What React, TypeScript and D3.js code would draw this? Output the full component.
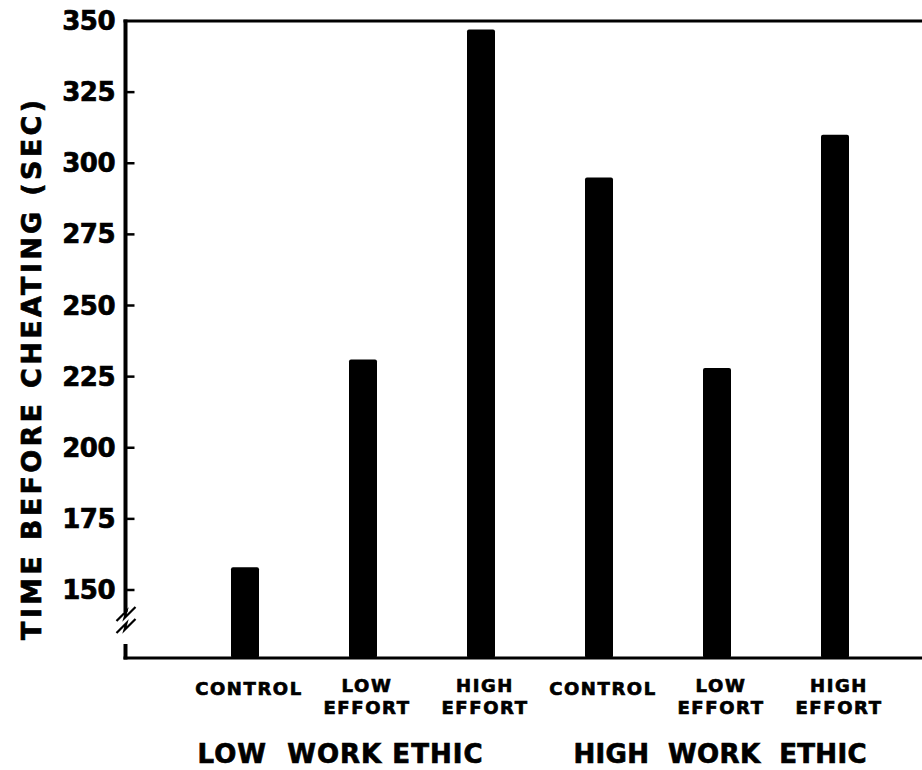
import React from 'react';
import * as d3 from 'd3';

// values (seconds before cheating)
const categories = ['lo-control', 'lo-low', 'lo-high', 'hi-control', 'hi-low', 'hi-high'];
const categoryLabels = [['CONTROL'], ['LOW', 'EFFORT'], ['HIGH', 'EFFORT'], ['CONTROL'], ['LOW', 'EFFORT'], ['HIGH', 'EFFORT']];
const groups = ['LOW  WORK ETHIC', 'HIGH  WORK  ETHIC'];
const lowEthicValues = [158, 231, 347];
const highEthicValues = [295, 228, 310];
const yTicks = [150, 175, 200, 225, 250, 275, 300, 325, 350];
const yTitle = 'TIME BEFORE CHEATING (SEC)';

const W = 922, H = 770;
const FONT = '"DejaVu Sans", Verdana, sans-serif';

export default function App() {
  const values = [...lowEthicValues, ...highEthicValues];
  const axisX = 125.5;
  const baseY = 658;
  const topY = 21;

  const x = d3.scalePoint<string>().domain(categories).range([245, 835]);
  const y = d3.scaleLinear().domain([150, 350]).range([590, topY]);
  const gx = d3.scaleBand<string>().domain(groups).range([150, 910]);
  const barW = 28;

  // axis break squiggle
  const zig = (dy: number) => {
    const p = d3.path();
    p.moveTo(axisX - 9, 621 + dy);
    p.lineTo(axisX + 1, 611 + dy);
    p.lineTo(axisX - 1, 618 + dy);
    p.lineTo(axisX + 10, 607 + dy);
    return p.toString();
  };

  // heavier lettering, like the hand-set original
  const bold = { fontFamily: FONT, fontWeight: 700, fill: '#000', stroke: '#000', strokeWidth: 0.7 };

  return (
    <svg width={W} height={H} style={{ position: 'absolute', left: 0, top: 0, background: '#fff' }}>
      {/* frame top + axes */}
      <line x1={axisX - 2} x2={W} y1={topY} y2={topY} stroke="#000" strokeWidth={3} />
      <line x1={axisX} x2={axisX} y1={topY - 1.5} y2={612} stroke="#000" strokeWidth={4} />
      <line x1={axisX} x2={axisX} y1={644} y2={baseY + 1.5} stroke="#000" strokeWidth={4} />
      <line x1={axisX - 2} x2={W} y1={baseY} y2={baseY} stroke="#000" strokeWidth={3} />
      <path d={zig(0)} fill="none" stroke="#000" strokeWidth={2.2} />
      <path d={zig(12)} fill="none" stroke="#000" strokeWidth={2.2} />

      {/* y ticks */}
      {yTicks.map(t => (
        <g key={t}>
          {t < 350 && <line x1={axisX} x2={axisX + 9} y1={y(t)} y2={y(t)} stroke="#000" strokeWidth={2.5} />}
          <text x={115} y={y(t) + 9} textAnchor="end" fontSize={26} letterSpacing={-0.5} {...bold}>{t}</text>
        </g>
      ))}

      {/* y title */}
      <text transform={`translate(41,${370}) rotate(-90)`} textAnchor="middle" fontSize={27}
        textLength={540} lengthAdjust="spacing" {...bold}>{yTitle}</text>

      {/* bars */}
      {values.map((v, i) => (
        <rect key={categories[i]} x={(x(categories[i]) as number) - barW / 2} y={y(v)}
          width={barW} height={baseY - y(v)} rx={2} fill="#000" />
      ))}

      {/* category labels */}
      {categoryLabels.map((lines, i) => (
        <g key={'l' + i}>
          {lines.map((s, j) => (
            <text key={j} x={(x(categories[i]) as number) + 4} y={lines.length === 1 ? 695 : 692 + j * 22}
              textAnchor="middle" fontSize={18} letterSpacing={1.6} {...bold}>{s}</text>
          ))}
        </g>
      ))}

      {/* group labels */}
      {groups.map((g, i) => (
        <text key={g} x={(gx(g) as number) + gx.bandwidth() / 2} y={763} textAnchor="middle"
          fontSize={26} style={{ whiteSpace: 'pre' }}
          textLength={i === 0 ? 285 : 293} lengthAdjust="spacing" {...bold}>{g}</text>
      ))}
    </svg>
  );
}
